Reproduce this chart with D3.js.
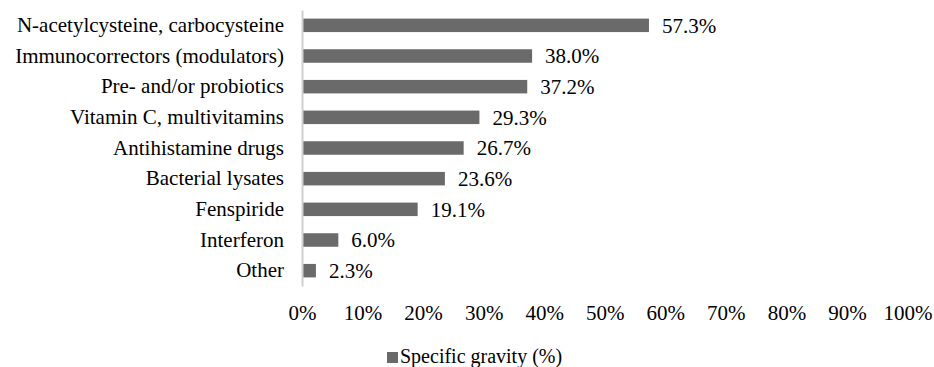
<!DOCTYPE html>
<html>
<head>
<meta charset="utf-8">
<script src="https://cdn.jsdelivr.net/npm/d3@7"></script>
<style>
  html, body { margin: 0; padding: 0; background: #fff; }
  svg { display: block; }
</style>
</head>
<body>
<svg id="chart" width="934" height="367"></svg>
<script>
// Categories (top to bottom) and their shares in percent
const categories = [
  "N-acetylcysteine, carbocysteine",
  "Immunocorrectors (modulators)",
  "Pre- and/or probiotics",
  "Vitamin C, multivitamins",
  "Antihistamine drugs",
  "Bacterial lysates",
  "Fenspiride",
  "Interferon",
  "Other"
];
const values = [57.3, 38.0, 37.2, 29.3, 26.7, 23.6, 19.1, 6.0, 2.3];
const xTicks = [0, 10, 20, 30, 40, 50, 60, 70, 80, 90, 100];
const seriesName = "Specific gravity (%)";

const serif = "'Liberation Serif', 'Tinos', 'Times New Roman', 'DejaVu Serif', 'Noto Serif', Georgia, serif";
const svg = d3.select("#chart").style("font-family", serif);
const fontSize = 21;
const barColor = "#6a6a6a";

const x = d3.scaleLinear().domain([0, 100]).range([302, 907.5]);
const y = d3.scaleBand().domain(categories).range([10, 286]).paddingInner(0.56).paddingOuter(0.28);

// Bars
svg.append("g")
  .selectAll("rect")
  .data(values)
  .join("rect")
  .attr("x", x(0) + 1)
  .attr("y", (d, i) => y(categories[i]))
  .attr("width", d => x(d) - x(0) - 1)
  .attr("height", y.bandwidth())
  .attr("fill", barColor);

// Value labels
svg.append("g")
  .selectAll("text")
  .data(values)
  .join("text")
  .attr("x", d => x(d) + 13)
  .attr("y", (d, i) => y(categories[i]) + y.bandwidth() / 2)
  .attr("dy", "0.35em")
  .style("font-family", serif)
  .style("font-size", fontSize + "px")
  .text(d => d.toFixed(1) + "%");

// Category axis (vertical line with labels)
const yAxis = d3.axisLeft(y).tickSize(0).tickPadding(18);
const gy = svg.append("g").attr("transform", `translate(${x(0)},0)`).call(yAxis);
gy.select(".domain").attr("stroke", "#cfcfcf").attr("stroke-width", 2);
gy.selectAll("text")
  .style("font-family", serif)
  .style("font-size", fontSize + "px")
  .attr("fill", "#000");

// Value axis: labels only
const xAxis = d3.axisBottom(x).tickValues(xTicks).tickSize(0).tickFormat(d => d + "%");
const gx = svg.append("g").attr("transform", "translate(0,300)").call(xAxis);
gx.select(".domain").remove();
gx.selectAll("text")
  .attr("dy", 0)
  .attr("y", 20)
  .style("font-family", serif)
  .style("font-size", fontSize + "px")
  .attr("fill", "#000");

// Legend
const legend = svg.append("g").attr("transform", "translate(387,352)");
legend.append("rect").attr("width", 11).attr("height", 11).attr("fill", barColor);
legend.append("text")
  .attr("x", 13)
  .attr("y", 11)
  .style("font-family", serif)
  .style("font-size", "20px")
  .text(seriesName);
</script>
</body>
</html>
